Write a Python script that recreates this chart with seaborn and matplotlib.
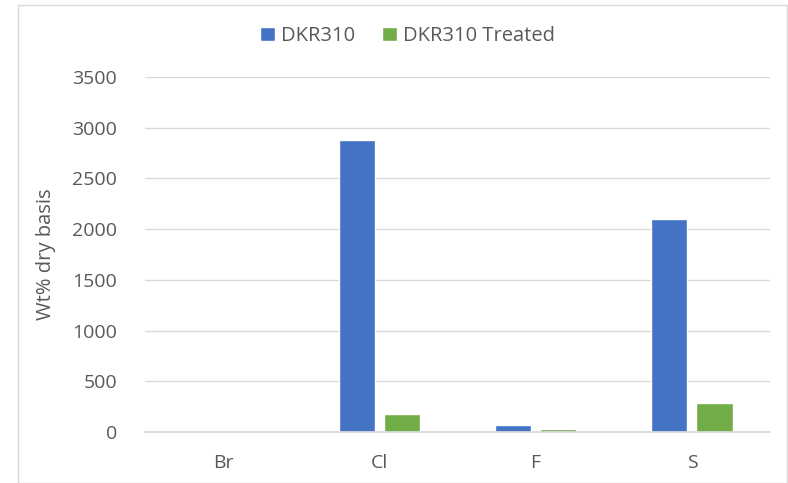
import pandas as pd
import seaborn as sns
import matplotlib.pyplot as plt
from matplotlib.patches import Rectangle

# data
elements = ['Br', 'Cl', 'F', 'S']
dkr310 = [0, 2880, 65, 2100]
dkr310_treated = [0, 178, 32, 290]
series = ['DKR310', 'DKR310 Treated']

df = pd.DataFrame({
    'element': elements * 2,
    'value': dkr310 + dkr310_treated,
    'series': [series[0]] * len(elements) + [series[1]] * len(elements),
})

sns.set_theme(style='white')
plt.rcParams['font.family'] = ['Open Sans', 'DejaVu Sans']
text_col = '#595959'

fig = plt.figure(figsize=(7.88, 4.83), dpi=100)
ax = fig.add_axes([145 / 788, 1 - 432 / 483, 625 / 788, 355 / 483])

sns.barplot(data=df, x='element', y='value', hue='series', order=elements,
            hue_order=series, palette=['#4472C4', '#70AD47'],
            width=0.58, gap=0.2, saturation=1, ax=ax)

ax.set_ylim(0, 3500)
ax.set_yticks(range(0, 3501, 500))
ax.grid(axis='y', color='#D9D9D9', linewidth=1)
ax.set_axisbelow(True)
for s in ['top', 'right', 'left']:
    ax.spines[s].set_visible(False)
ax.spines['bottom'].set_color('#D9D9D9')
ax.tick_params(axis='both', length=0, labelsize=14, colors=text_col)
ax.tick_params(axis='x', pad=16)
ax.tick_params(axis='y', pad=20)
ax.set_xlabel('')
ax.set_ylabel('Wt% dry basis', fontsize=14.5, color=text_col, labelpad=12)

ax.legend(loc='center', bbox_to_anchor=(0.42, 1 + 41 / 355), ncol=2, frameon=False,
          fontsize=14.5, handlelength=0.75, handleheight=0.75, handletextpad=0.3,
          columnspacing=1.3, labelcolor=text_col)

# light chart-area border
fig.patches.append(Rectangle((18 / 788, 0), 1 - 18 / 788 - 1 / 788, 1 - 5 / 483,
                             transform=fig.transFigure, fill=False,
                             edgecolor='#D9D9D9', linewidth=1))

fig.savefig('out.png', dpi=100)
